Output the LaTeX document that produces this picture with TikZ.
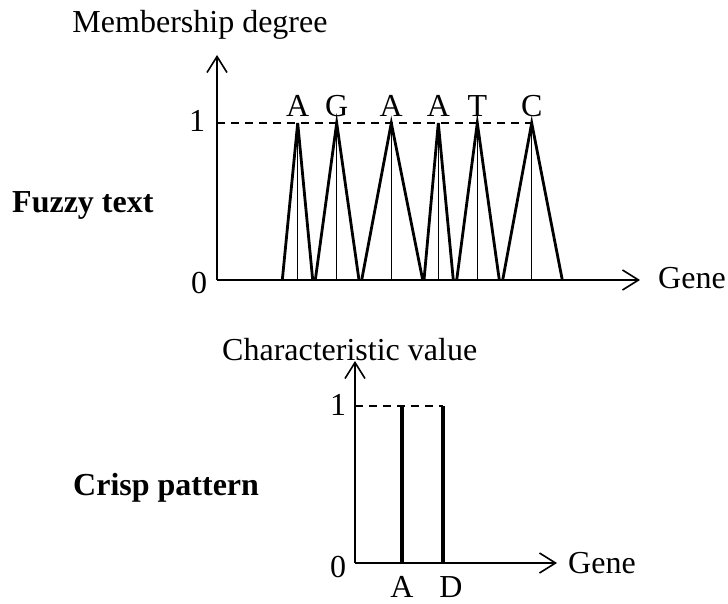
\documentclass[tikz,border=0pt]{standalone}
\usepackage{fontspec}
\setmainfont{Liberation Serif}
\usetikzlibrary{arrows.meta}
\begin{document}
\begin{tikzpicture}[x=1pt,y=-1pt,
  lbl/.style={inner sep=0pt, font=\fontsize{32}{38}\selectfont},
  blbl/.style={inner sep=0pt, font=\fontsize{32}{38}\selectfont\bfseries},
  axis/.style={line width=1.6pt, -{Straight Barb[length=16pt,width=20pt]}},
  tri/.style={line width=2.8pt, line join=miter},
  mid/.style={line width=1.5pt},
  bar/.style={line width=3.4pt},
  dsh/.style={line width=1.5pt, dash pattern=on 8pt off 6pt}]
\useasboundingbox (0,0) rectangle (728,604);
% ---------- top chart ----------
\coordinate (O1) at (217,280);
\coordinate (Y1) at (217,55);
\coordinate (X1) at (640,280);
\foreach \p/\l/\r/\t [count=\i] in {297.7/282.3/312.7/A, 336.7/315.3/359/G, 391.3/361.7/422.7/A, 438.3/424/453.3/A, 477.3/456.7/499.3/T, 531.7/502.7/562.3/C}{
  \coordinate (p\i) at (\p,123);
  \coordinate (l\i) at (\l,280);
  \coordinate (r\i) at (\r,280);
  \draw[tri] (l\i) -- (p\i) -- (r\i);
  \draw[mid] (p\i) -- (p\i |- O1);
  \node[lbl, anchor=base] (t\i) at (\p,117) {\t};
}
\draw[dsh] (Y1 |- p1) -- (p6);
\draw[axis] (O1) -- (Y1);
\draw[axis] (O1) -- (X1);
\node[lbl, anchor=base] (one1) at (197,132) {1};
\node[lbl, anchor=base] (zero1) at (199,293) {0};
\node[lbl, anchor=base] (ylab1) at (200,33) {Membership degree};
\node[lbl, anchor=base west] (gene1) at (658,288) {Gene};
\node[blbl, anchor=base west] (fuzzy) at (12,213) {Fuzzy text};
% ---------- bottom chart ----------
\coordinate (O2) at (355,563);
\coordinate (Y2) at (355,361);
\coordinate (X2) at (557,563);
\coordinate (a1) at (402,406);
\coordinate (a2) at (443,406);
\draw[dsh] (Y2 |- a1) -- (a2);
\draw[bar] (a1) -- (a1 |- O2);
\draw[bar] (a2) -- (a2 |- O2);
\draw[axis] (O2) -- (Y2);
\draw[axis] (O2) -- (X2);
\node[lbl, anchor=base] (one2) at (338,415) {1};
\node[lbl, anchor=base] (zero2) at (338,577) {0};
\node[lbl, anchor=base west] (ylab2) at (222,360) {Characteristic value};
\node[lbl, anchor=base west] (gene2) at (568,573) {Gene};
\node[lbl, anchor=base, text depth=0pt] (lA) at (402,597) {A};
\node[lbl, anchor=base, text depth=0pt] (lD) at (451,597) {D};
\node[blbl, anchor=base west] (crisp) at (73,495) {Crisp pattern};
\end{tikzpicture}
\end{document}
